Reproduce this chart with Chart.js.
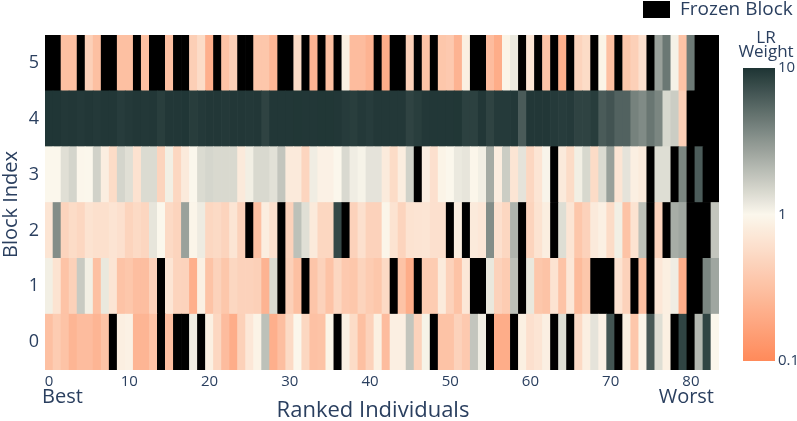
<!DOCTYPE html>
<html>
<head>
<meta charset="utf-8">
<script src="https://cdn.jsdelivr.net/npm/chart.js@4.4.1/dist/chart.umd.min.js"></script>
<style>
  html, body { margin: 0; padding: 0; background: #fff; }
  #wrap { width: 797px; height: 421px; }
</style>
</head>
<body>
<div id="wrap"><canvas id="chart" width="797" height="421"></canvas></div>
<script>
// LR weight per block (row) for each ranked individual, null = frozen block
const weights5 = [
  null,null,0.31,0.31,null,0.44,0.31,null,null,0.31,
  0.31,null,0.31,null,null,0.31,null,null,0.43,0.56,
  0.22,null,0.33,0.44,null,null,0.36,0.36,0.25,null,
  null,0.56,null,0.24,null,0.31,null,0.86,0.29,0.29,
  0.24,null,0.21,null,null,0.44,null,0.33,null,0.36,
  0.38,0.24,0.84,null,null,0.29,0.21,0.93,1.18,null,
  0.69,null,0.33,null,0.22,null,0.48,0.56,null,0.93,
  0.31,null,0.36,0.44,0.62,null,2.75,4.5,1.07,0.33,
  4.4,null,null,null
];
const weights4 = [
  9.8,9.8,9.5,9.6,9.4,9.6,9.4,9.6,9.6,9.1,
  9.4,9.6,9.5,9.6,8.9,9.6,9.6,9.8,9.0,9.4,
  9.6,9.6,9.4,9.6,9.6,9.5,9.6,8.4,9.6,9.6,
  9.6,9.7,9.6,9.6,9.7,9.7,9.6,9.2,8.9,9.4,
  9.1,9.5,9.5,9.5,9.5,8.4,8.9,9.5,9.6,9.6,
  9.6,9.7,8.6,8.6,9.6,8.4,9.3,9.3,9.5,6.3,
  9.6,9.6,9.6,9.3,9.1,9.3,8.4,8.4,9.0,6.3,
  6.9,5.8,5.8,4.0,3.6,4.6,3.8,1.45,1.65,0.44,
  null,null,null,null
];
const weights3 = [
  1.0,1.0,1.33,1.5,0.98,1.0,1.55,0.83,0.56,1.5,
  1.33,0.64,1.4,1.4,0.48,1.1,0.51,0.76,1.0,1.4,
  1.48,1.43,1.43,1.43,0.76,1.1,1.43,1.43,1.3,1.8,
  0.76,0.76,0.49,1.12,0.89,0.89,1.0,1.42,1.12,1.05,
  1.26,1.26,0.78,0.56,0.81,1.55,null,0.85,0.62,0.93,
  1.0,1.18,1.23,0.97,1.1,2.45,0.81,1.65,0.69,1.26,
  0.51,0.69,1.03,null,0.76,0.56,1.1,1.45,0.56,1.4,
  2.8,0.69,1.26,0.85,0.78,null,1.35,1.35,null,3.8,
  null,6.2,null,null
];
const weights2 = [
  0.69,3.5,0.48,0.56,0.51,0.65,0.61,0.61,0.67,0.62,
  0.48,0.54,0.5,1.23,1.0,0.54,0.48,2.75,0.95,1.15,
  0.51,0.54,0.48,0.68,0.46,null,0.31,0.81,0.62,null,
  0.46,1.9,1.33,0.76,0.51,0.51,7.9,null,0.46,0.62,
  0.46,0.46,0.96,0.65,0.48,0.65,0.67,0.69,0.62,0.62,
  null,0.83,null,0.76,0.72,3.5,0.62,0.51,2.2,null,
  0.48,0.65,0.83,null,1.35,0.69,0.36,0.46,0.76,0.87,
  0.56,1.1,0.33,0.65,1.9,null,0.48,null,2.4,2.6,
  null,null,null,1.8
];
const weights1 = [
  1.1,0.65,0.33,0.45,1.7,1.1,0.31,1.2,0.69,0.33,
  0.36,0.3,0.3,0.46,null,0.68,0.48,0.47,0.22,0.87,
  0.33,0.46,0.36,0.51,0.46,0.46,0.44,0.24,1.4,null,
  0.44,0.31,null,0.35,0.46,0.33,0.51,0.38,0.36,0.48,
  0.4,0.36,0.54,null,0.33,0.21,null,0.4,0.4,0.78,
  0.46,0.33,0.72,null,null,1.2,0.46,0.4,1.9,null,
  1.2,0.36,0.33,0.65,0.33,0.72,0.28,0.36,null,null,
  null,0.65,0.46,null,0.31,null,0.72,0.84,1.12,0.21,
  null,null,3.8,2.6
];
const weights0 = [
  0.31,0.4,0.33,0.25,0.29,0.29,0.25,0.33,null,0.84,
  0.88,0.25,0.25,0.33,null,0.3,null,null,1.12,null,
  0.86,0.51,0.29,0.21,0.45,0.72,0.91,1.9,0.22,0.3,
  0.54,0.98,0.51,0.32,0.33,0.93,null,0.86,0.56,0.31,
  0.46,0.86,0.29,0.85,0.85,1.8,0.46,1.05,null,0.33,
  0.33,0.46,0.38,1.8,1.12,null,0.21,0.21,null,0.86,
  0.62,0.69,0.85,null,1.35,null,0.54,0.85,1.26,0.89,
  6.8,null,0.86,0.36,0.96,6.5,1.35,0.86,null,8.3,
  null,2.1,8.3,1.0
];

const blocks = [0, 1, 2, 3, 4, 5];
const xTickLabels = [0, 10, 20, 30, 40, 50, 60, 70, 80];
const colorbarTicks = [0.1, 1, 10];

const TEXT = '#2a3f5f';
const FONT = '"Open Sans", verdana, arial, sans-serif';
const FROZEN = '#000000';

// log colour scale: 0.1 -> coral, 1 -> cream, 10 -> dark slate
const stops = [
  [0.0, [255, 138, 90]],
  [0.5, [251, 247, 236]],
  [1.0, [30, 52, 52]]
];
function colorAt(t) {
  t = Math.max(0, Math.min(1, t));
  for (let i = 1; i < stops.length; i++) {
    if (t <= stops[i][0]) {
      const a = stops[i - 1], b = stops[i];
      const f = (t - a[0]) / (b[0] - a[0]);
      const c = a[1].map((v, k) => Math.round(v + (b[1][k] - v) * f));
      return `rgb(${c[0]},${c[1]},${c[2]})`;
    }
  }
  return 'rgb(30,52,52)';
}
function lrColor(v) {
  return colorAt((Math.log10(v) + 1) / 2);
}

const rows = [weights0, weights1, weights2, weights3, weights4, weights5];
const columns = weights0.map((_, i) => i);

const datasets = rows.map((w, r) => ({
  label: 'Block ' + blocks[r],
  data: w.map(() => [blocks[r] - 0.5, blocks[r] + 0.5]),
  backgroundColor: w.map(v => v === null ? FROZEN : lrColor(v)),
  borderWidth: 0,
  barPercentage: 1,
  categoryPercentage: 1,
  grouped: false
}));

// axis titles, legend and colorbar
const overlay = {
  id: 'overlay',
  afterDraw(chart) {
    const ctx = chart.ctx;
    const area = chart.chartArea;
    ctx.save();
    ctx.fillStyle = TEXT;
    ctx.textBaseline = 'middle';

    ctx.font = `20px ${FONT}`;
    ctx.textAlign = 'center';
    ctx.save();
    ctx.translate(11, (area.top + area.bottom) / 2 + 2);
    ctx.rotate(-Math.PI / 2);
    ctx.fillText('Block Index', 0, 0);
    ctx.restore();

    ctx.font = `22px ${FONT}`;
    ctx.fillText('Ranked Individuals', 373, 411);

    ctx.font = `20px ${FONT}`;
    ctx.textAlign = 'left';
    ctx.fillText('Best', 42, 397);
    ctx.textAlign = 'right';
    ctx.fillText('Worst', 714, 397);

    // legend
    ctx.fillStyle = FROZEN;
    ctx.fillRect(643, 1, 27, 17);
    ctx.fillStyle = TEXT;
    ctx.textAlign = 'left';
    ctx.font = `19px ${FONT}`;
    ctx.fillText('Frozen Block', 680, 10);

    // colorbar
    const cb = { x: 743, y: 68, w: 32, h: 293 };
    const grad = ctx.createLinearGradient(0, cb.y + cb.h, 0, cb.y);
    for (let i = 0; i <= 40; i++) grad.addColorStop(i / 40, colorAt(i / 40));
    ctx.fillStyle = grad;
    ctx.fillRect(cb.x, cb.y, cb.w, cb.h);

    ctx.fillStyle = TEXT;
    ctx.font = `17px ${FONT}`;
    ctx.textAlign = 'center';
    ctx.fillText('LR', 766, 38);
    ctx.fillText('Weight', 766, 52);

    ctx.font = `15px ${FONT}`;
    ctx.textAlign = 'left';
    colorbarTicks.forEach(v => {
      const t = (Math.log10(v) + 1) / 2;
      ctx.fillText(String(v), cb.x + cb.w + 3, cb.y + cb.h - t * cb.h);
    });
    ctx.restore();
  }
};

new Chart(document.getElementById('chart'), {
  type: 'bar',
  data: { labels: columns, datasets: datasets },
  options: {
    responsive: false,
    animation: false,
    devicePixelRatio: 1,
    layout: { padding: { top: 35, right: 78, left: 0, bottom: 0 } },
    plugins: { legend: { display: false }, tooltip: { enabled: false } },
    scales: {
      x: {
        type: 'category',
        grid: { display: false, drawTicks: false },
        border: { display: false },
        ticks: {
          autoSkip: false,
          maxRotation: 0,
          padding: 3,
          color: TEXT,
          font: { family: FONT, size: 15 },
          callback: (v, i) => xTickLabels.includes(i) ? String(i) : ''
        },
        afterFit: s => { s.height = 51; }
      },
      y: {
        type: 'linear',
        min: -0.5,
        max: 5.5,
        grid: { display: false, drawTicks: false },
        border: { display: false },
        afterBuildTicks: s => { s.ticks = blocks.map(b => ({ value: b })); },
        ticks: {
          padding: 6,
          color: TEXT,
          font: { family: FONT, size: 18 },
          callback: v => String(v)
        },
        afterFit: s => { s.width = 45; }
      }
    }
  },
  plugins: [overlay]
});
</script>
</body>
</html>
